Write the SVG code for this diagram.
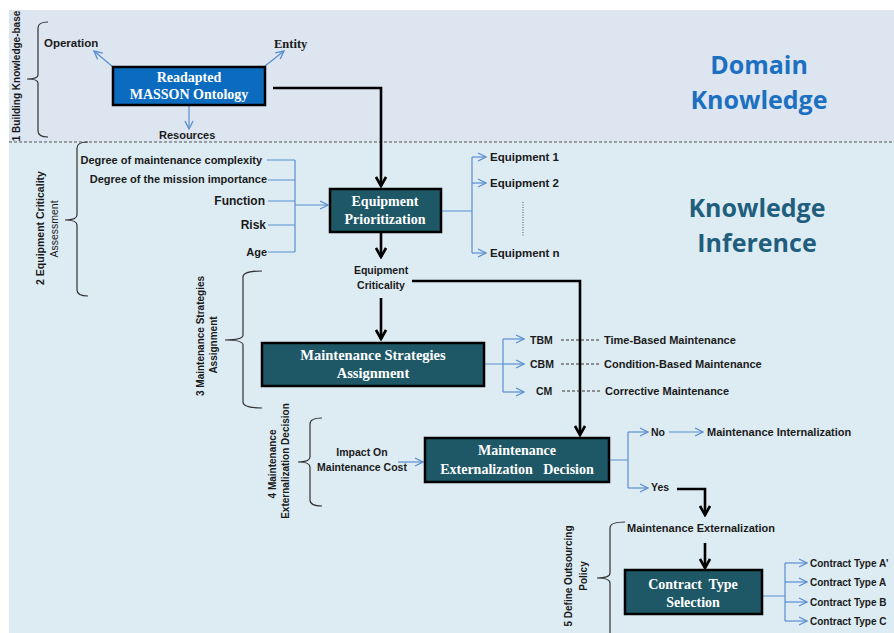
<svg xmlns="http://www.w3.org/2000/svg" width="894" height="633" viewBox="0 0 894 633">
<defs>
<marker id="ba" viewBox="0 0 10 10" refX="9" refY="5" markerWidth="10" markerHeight="10" markerUnits="userSpaceOnUse" orient="auto">
<path d="M1,1 L9,5 L1,9" fill="none" stroke="#5b8ed0" stroke-width="1.3"/>
</marker>
<marker id="ka" viewBox="0 0 12 12" refX="10" refY="6" markerWidth="12" markerHeight="12" markerUnits="userSpaceOnUse" orient="auto">
<path d="M1,1 L10,6 L1,11" fill="none" stroke="#000" stroke-width="2.6"/>
</marker>
</defs>
<style>
.sans{font-family:"Liberation Sans","Open Sans",Arial,sans-serif;font-weight:bold;font-size:11px;fill:#1a1a1a}
.serif{font-family:"Liberation Serif","Times New Roman",serif;font-weight:bold}
.box{stroke:#000;stroke-width:2.5}
.bt{font-family:"Liberation Serif","Times New Roman",serif;font-weight:bold;font-size:14px;fill:#fff;text-anchor:middle}
.blue{fill:none;stroke:#5b8ed0;stroke-width:1.2}
.blk{fill:none;stroke:#000;stroke-width:2.6}
.brace{fill:none;stroke:#333;stroke-width:1.2}
.vt{font-family:"Liberation Sans","Open Sans",Arial,sans-serif;font-weight:bold;font-size:10px;fill:#1a1a1a;text-anchor:middle}
.big{font-family:"Open Sans","Liberation Sans",sans-serif;font-weight:bold;font-size:25px;text-anchor:middle}
</style>
<rect x="0" y="0" width="894" height="633" fill="#fff"/>
<rect x="9" y="10" width="885" height="132" fill="#dce5f0"/>
<rect x="9" y="142" width="885" height="491" fill="#ddecf3"/>
<line x1="9" y1="142" x2="894" y2="142" stroke="#555" stroke-width="1" stroke-dasharray="3,2"/>

<text class="big" x="759" y="74" fill="#1c70c0">Domain</text>
<text class="big" x="759" y="109" fill="#1c70c0">Knowledge</text>
<text class="big" x="757" y="217" fill="#1f5f7d">Knowledge</text>
<text class="big" x="757" y="252" fill="#1f5f7d">Inference</text>

<g id="braces">
<path class="brace" d="M48,22 Q38,22 38,28 L38,75 Q38,79 27,79 Q38,79 38,83 L38,131 Q38,137 48,137"/>
<path class="brace" d="M88,142 Q77,142 77,148 L77,215 Q77,220 65,220 Q77,220 77,225 L77,290 Q77,296 88,296"/>
<path class="brace" d="M262,271 Q243,271 243,277 L243,335 Q243,340 225,340 Q243,340 243,345 L243,402 Q243,408 262,408"/>
<path class="brace" d="M322,418 Q310,418 310,424 L310,457 Q310,462 298,462 Q310,462 310,467 L310,500 Q310,506 322,506"/>
<path class="brace" d="M625,522 Q610,522 610,528 L610,573 Q610,578 597,578 Q610,578 610,583 L610,640"/>
<text class="vt" transform="translate(20,76) rotate(-90)">1 Building  Knowledge-base</text>
<text class="vt" transform="translate(44,228) rotate(-90)" style="font-size:10.5px">2 Equipment Criticality</text>
<text class="vt" transform="translate(58,229) rotate(-90)" style="font-weight:normal;font-size:10.5px">Assessment</text>
<text class="vt" transform="translate(204,336) rotate(-90)">3 Maintenance  Strategies</text>
<text class="vt" transform="translate(217,345) rotate(-90)">Assignment</text>
<text class="vt" transform="translate(276,464) rotate(-90)">4 Maintenance</text>
<text class="vt" transform="translate(289,461) rotate(-90)">Externalization  Decision</text>
<text class="vt" transform="translate(572,576) rotate(-90)">5 Define Outsourcing</text>
<text class="vt" transform="translate(587,576) rotate(-90)">Policy</text>
</g>

<g id="connectors">
<line class="blue" x1="113" y1="67" x2="94" y2="51" marker-end="url(#ba)"/>
<line class="blue" x1="265" y1="66" x2="284" y2="51" marker-end="url(#ba)"/>
<line class="blue" x1="189" y1="106" x2="189" y2="129" marker-end="url(#ba)"/>
<path class="blk" d="M273,88 L381,88 L381,186" marker-end="url(#ka)"/>
<path class="blue" d="M267,160 L295,160 M268,180 L295,180 M268,201 L295,201 M268,225 L295,225 M268,252 L295,252 M295,160 L295,252"/>
<line class="blue" x1="295" y1="205" x2="328" y2="205" marker-end="url(#ba)"/>
<path class="blue" d="M441,211 L472,211 M472,157 L472,253"/>
<line class="blue" x1="472" y1="157" x2="486" y2="157" marker-end="url(#ba)"/>
<line class="blue" x1="472" y1="183" x2="486" y2="183" marker-end="url(#ba)"/>
<line class="blue" x1="472" y1="253" x2="486" y2="253" marker-end="url(#ba)"/>
<line x1="523" y1="202" x2="523" y2="236" stroke="#555" stroke-width="1" stroke-dasharray="1,1.5"/>
<line class="blk" x1="381" y1="233" x2="381" y2="257" marker-end="url(#ka)"/>
<path class="blk" d="M412,281 L580,281 L580,435" marker-end="url(#ka)"/>
<line class="blk" x1="381" y1="298" x2="381" y2="339" marker-end="url(#ka)"/>
<path class="blue" d="M484,364 L503,364 M503,339 L503,392"/>
<line class="blue" x1="503" y1="339" x2="524" y2="339" marker-end="url(#ba)"/>
<line class="blue" x1="503" y1="364" x2="524" y2="364" marker-end="url(#ba)"/>
<line class="blue" x1="503" y1="392" x2="524" y2="392" marker-end="url(#ba)"/>
<g stroke="#333" stroke-width="1" stroke-dasharray="3,2">
<line x1="561" y1="340" x2="599" y2="340"/>
<line x1="561" y1="364" x2="599" y2="364"/>
<line x1="562" y1="391" x2="600" y2="391"/>
</g>
<line class="blue" x1="398" y1="462" x2="423" y2="462" marker-end="url(#ba)"/>
<path class="blue" d="M609,460 L628,460 M628,432 L628,488"/>
<line class="blue" x1="628" y1="432" x2="648" y2="432" marker-end="url(#ba)"/>
<line class="blue" x1="628" y1="488" x2="648" y2="488" marker-end="url(#ba)"/>
<line class="blue" x1="669" y1="432" x2="703" y2="432" marker-end="url(#ba)"/>
<path class="blk" d="M677,489 L705,489 L705,515" marker-end="url(#ka)"/>
<line class="blk" x1="705" y1="543" x2="705" y2="568" marker-end="url(#ka)"/>
<path class="blue" d="M762,596 L785,596 M785,563 L785,621"/>
<line class="blue" x1="785" y1="563" x2="807" y2="563" marker-end="url(#ba)"/>
<line class="blue" x1="785" y1="582" x2="807" y2="582" marker-end="url(#ba)"/>
<line class="blue" x1="785" y1="602" x2="807" y2="602" marker-end="url(#ba)"/>
<line class="blue" x1="785" y1="621" x2="807" y2="621" marker-end="url(#ba)"/>
</g>

<g id="ontology">
<rect class="box" x="113" y="67" width="152" height="38" fill="#0b6cbf"/>
<text class="bt" x="189" y="82">Readapted</text>
<text class="bt" x="189" y="99">MASSON Ontology</text>
</g>
<g id="operation"><text class="sans" x="44" y="47" style="font-size:11.5px">Operation</text></g>
<g id="entity"><text class="serif" x="274" y="48" font-size="12.5" fill="#1a1a1a">Entity</text></g>
<g id="resources"><text class="sans" x="159" y="139">Resources</text></g>

<g id="inputs">
<text class="sans" x="262" y="164" text-anchor="end">Degree of maintenance complexity</text>
<text class="sans" x="267" y="183" text-anchor="end">Degree of the mission importance</text>
<text class="sans" x="265" y="205" text-anchor="end" style="font-size:12px">Function</text>
<text class="sans" x="266" y="229" text-anchor="end" style="font-size:12px">Risk</text>
<text class="sans" x="267" y="256" text-anchor="end">Age</text>
</g>

<g id="equipment-prioritization">
<rect class="box" x="330" y="189" width="111" height="43" fill="#1e5866"/>
<text class="bt" x="385" y="206">Equipment</text>
<text class="bt" x="385" y="224">Prioritization</text>
</g>
<g id="equipment-list">
<text class="sans" x="490" y="161" style="font-size:11.5px">Equipment 1</text>
<text class="sans" x="490" y="187" style="font-size:11.5px">Equipment 2</text>
<text class="sans" x="490" y="257" style="font-size:11.5px">Equipment n</text>
</g>
<g id="equipment-criticality">
<text class="sans" x="381" y="274" text-anchor="middle" style="font-size:10.5px">Equipment</text>
<text class="sans" x="381" y="289" text-anchor="middle" style="font-size:10.5px">Criticality</text>
</g>

<g id="maintenance-strategies">
<rect class="box" x="262" y="343" width="222" height="43" fill="#1e5866"/>
<text class="bt" x="373" y="360" style="font-size:14.5px">Maintenance Strategies</text>
<text class="bt" x="373" y="378" style="font-size:14.5px">Assignment</text>
</g>
<g id="strategies-list">
<text class="sans" x="530" y="344" style="font-size:10.5px">TBM</text>
<text class="sans" x="530" y="368" style="font-size:10.5px">CBM</text>
<text class="sans" x="536" y="395" style="font-size:10.5px">CM</text>
<text class="sans" x="604" y="344">Time-Based  Maintenance</text>
<text class="sans" x="604" y="368">Condition-Based  Maintenance</text>
<text class="sans" x="605" y="395">Corrective Maintenance</text>
</g>

<g id="impact-cost">
<text class="sans" x="362" y="456" text-anchor="middle" style="font-size:10.5px">Impact On</text>
<text class="sans" x="362" y="471" text-anchor="middle" style="font-size:10.5px">Maintenance Cost</text>
</g>
<g id="externalization-decision">
<rect class="box" x="425" y="438" width="184" height="44" fill="#1e5866"/>
<text class="bt" x="517" y="455">Maintenance</text>
<text class="bt" x="517" y="474" xml:space="preserve">Externalization   Decision</text>
</g>
<g id="decision-outcomes">
<text class="sans" x="651" y="436" style="font-size:10.5px">No</text>
<text class="sans" x="707" y="436">Maintenance  Internalization</text>
<text class="sans" x="651" y="491" style="font-size:10.5px">Yes</text>
</g>
<g id="maintenance-externalization">
<text class="sans" x="627" y="532">Maintenance  Externalization</text>
</g>
<g id="contract-type-selection">
<rect class="box" x="625" y="570" width="137" height="44" fill="#1e5866"/>
<text class="bt" x="693" y="589" xml:space="preserve">Contract  Type</text>
<text class="bt" x="693" y="607">Selection</text>
</g>
<g id="contracts">
<text class="sans" x="810" y="567" style="font-size:10px">Contract Type A'</text>
<text class="sans" x="810" y="586" style="font-size:10px">Contract Type A</text>
<text class="sans" x="810" y="606" style="font-size:10px">Contract Type B</text>
<text class="sans" x="810" y="625" style="font-size:10px">Contract Type C</text>
</g>
</svg>
